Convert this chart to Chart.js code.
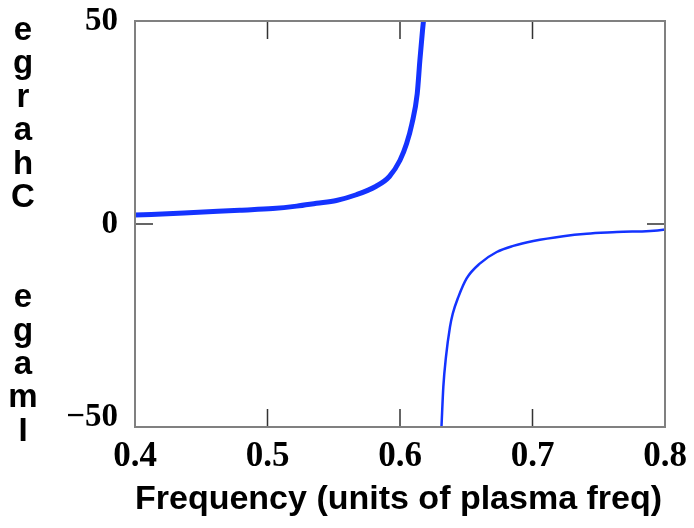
<!DOCTYPE html>
<html>
<head>
<meta charset="utf-8">
<script src="https://cdn.jsdelivr.net/npm/chart.js@4.4.1/dist/chart.umd.min.js"></script>
<style>
  html, body { margin: 0; padding: 0; background: #fff; }
  #wrap { width: 694px; height: 528px; position: relative; }
</style>
</head>
<body>
<div id="wrap"><canvas id="chart"></canvas></div>
<script>
// upper branch (below the resonance)
const posX = [0.400, 0.437, 0.479, 0.504, 0.522, 0.537, 0.552, 0.567, 0.582, 0.592, 0.600, 0.605, 0.609, 0.613, 0.615, 0.617, 0.6177];
const posY = [2.2, 2.7, 3.4, 3.8, 4.4, 5.1, 5.8, 7.2, 9.3, 11.7, 15.7, 19.8, 24.7, 32.1, 40.3, 47.7, 50];

// lower branch (above the resonance)
const negX = [0.6313, 0.6327, 0.6347, 0.6377, 0.6398, 0.644, 0.6503, 0.6604, 0.673, 0.6855, 0.7006, 0.7232, 0.7409, 0.7635, 0.7987, 0.800];
const negY = [-50, -40.1, -32.7, -25.4, -22.1, -18.0, -13.4, -9.7, -6.9, -5.4, -4.2, -3.0, -2.4, -2.0, -1.4, -1.3];

const xTicks = [0.4, 0.5, 0.6, 0.7, 0.8];
const yTicks = [-50, 0, 50];

const xTitle = 'Frequency (units of plasma freq)';
const yTitle = 'Image  Charge';

const toPoints = (xs, ys) => xs.map((x, i) => ({ x: x, y: ys[i] }));

// frame with inward ticks on all four sides
const framePlugin = {
    id: 'frame',
    afterDraw(chart) {
        const ctx = chart.ctx;
        const a = chart.chartArea;
        const xs = chart.scales.x;
        const ys = chart.scales.y;
        const tl = 18;
        ctx.save();
        ctx.strokeStyle = '#333';
        ctx.lineWidth = 1.5;
        ctx.beginPath();
        xTicks.forEach(v => {
            const px = xs.getPixelForValue(v);
            ctx.moveTo(px, a.bottom); ctx.lineTo(px, a.bottom - tl);
            ctx.moveTo(px, a.top); ctx.lineTo(px, a.top + tl);
        });
        yTicks.forEach(v => {
            const py = ys.getPixelForValue(v);
            ctx.moveTo(a.left, py); ctx.lineTo(a.left + tl, py);
            ctx.moveTo(a.right, py); ctx.lineTo(a.right - tl, py);
        });
        ctx.stroke();
        ctx.strokeStyle = '#808080';
        ctx.lineWidth = 2;
        ctx.strokeRect(a.left, a.top, a.right - a.left, a.bottom - a.top);

        // y title: letters stacked, reading upwards
        ctx.fillStyle = '#000';
        ctx.font = 'bold 33px "Liberation Sans"';
        ctx.textAlign = 'center';
        ctx.textBaseline = 'alphabetic';
        const letters = yTitle.split('').reverse();
        letters.forEach((ch, i) => {
            if (ch !== ' ') ctx.fillText(ch, 23, 40 + i * 33.4);
        });
        ctx.restore();
    }
};

new Chart(document.getElementById('chart'), {
    type: 'scatter',
    data: {
        datasets: [
            {
                data: toPoints(posX, posY),
                showLine: true,
                borderColor: '#1433ff',
                borderWidth: 5,
                pointRadius: 0,
                cubicInterpolationMode: 'monotone',
                fill: false,
                clip: 0
            },
            {
                data: toPoints(negX, negY),
                showLine: true,
                borderColor: '#1433ff',
                borderWidth: 2.5,
                pointRadius: 0,
                cubicInterpolationMode: 'monotone',
                fill: false,
                clip: 0
            }
        ]
    },
    options: {
        responsive: true,
        maintainAspectRatio: false,
        animation: false,
        layout: { padding: { top: 21, right: 29, left: 0, bottom: 0 } },
        plugins: {
            legend: { display: false },
            tooltip: { enabled: false }
        },
        scales: {
            x: {
                type: 'linear',
                min: 0.4,
                max: 0.8,
                grid: { display: false, drawTicks: false },
                border: { display: false },
                afterFit: s => { s.height = 101; s.paddingLeft = 0; s.paddingRight = 0; },
                afterBuildTicks: s => { s.ticks = xTicks.map(v => ({ value: v })); },
                ticks: {
                    padding: 9,
                    color: '#000',
                    maxRotation: 0,
                    font: { family: 'Liberation Serif', weight: 'bold', size: 35 },
                    callback: v => Number(v).toFixed(1)
                },
                title: {
                    display: true,
                    text: xTitle,
                    align: 'start',
                    color: '#000',
                    padding: { top: 0, bottom: 8 },
                    font: { family: 'Liberation Sans', weight: 'bold', size: 34 }
                }
            },
            y: {
                min: -50,
                max: 50,
                grid: { display: false, drawTicks: false },
                border: { display: false },
                afterFit: s => { s.width = 135; s.paddingTop = 0; s.paddingBottom = 0; },
                afterBuildTicks: s => { s.ticks = yTicks.map(v => ({ value: v })); },
                ticks: {
                    padding: 17,
                    color: '#000',
                    font: c => ({
                        family: 'Liberation Serif',
                        weight: 'bold',
                        size: 33,
                        lineHeight: (c.tick && c.tick.value < 0) ? 0.6 : 1.2
                    }),
                    callback: v => v < 0 ? ['\u2212' + Math.abs(v), ''] : String(v)
                }
            }
        }
    },
    plugins: [framePlugin]
});
</script>
</body>
</html>
